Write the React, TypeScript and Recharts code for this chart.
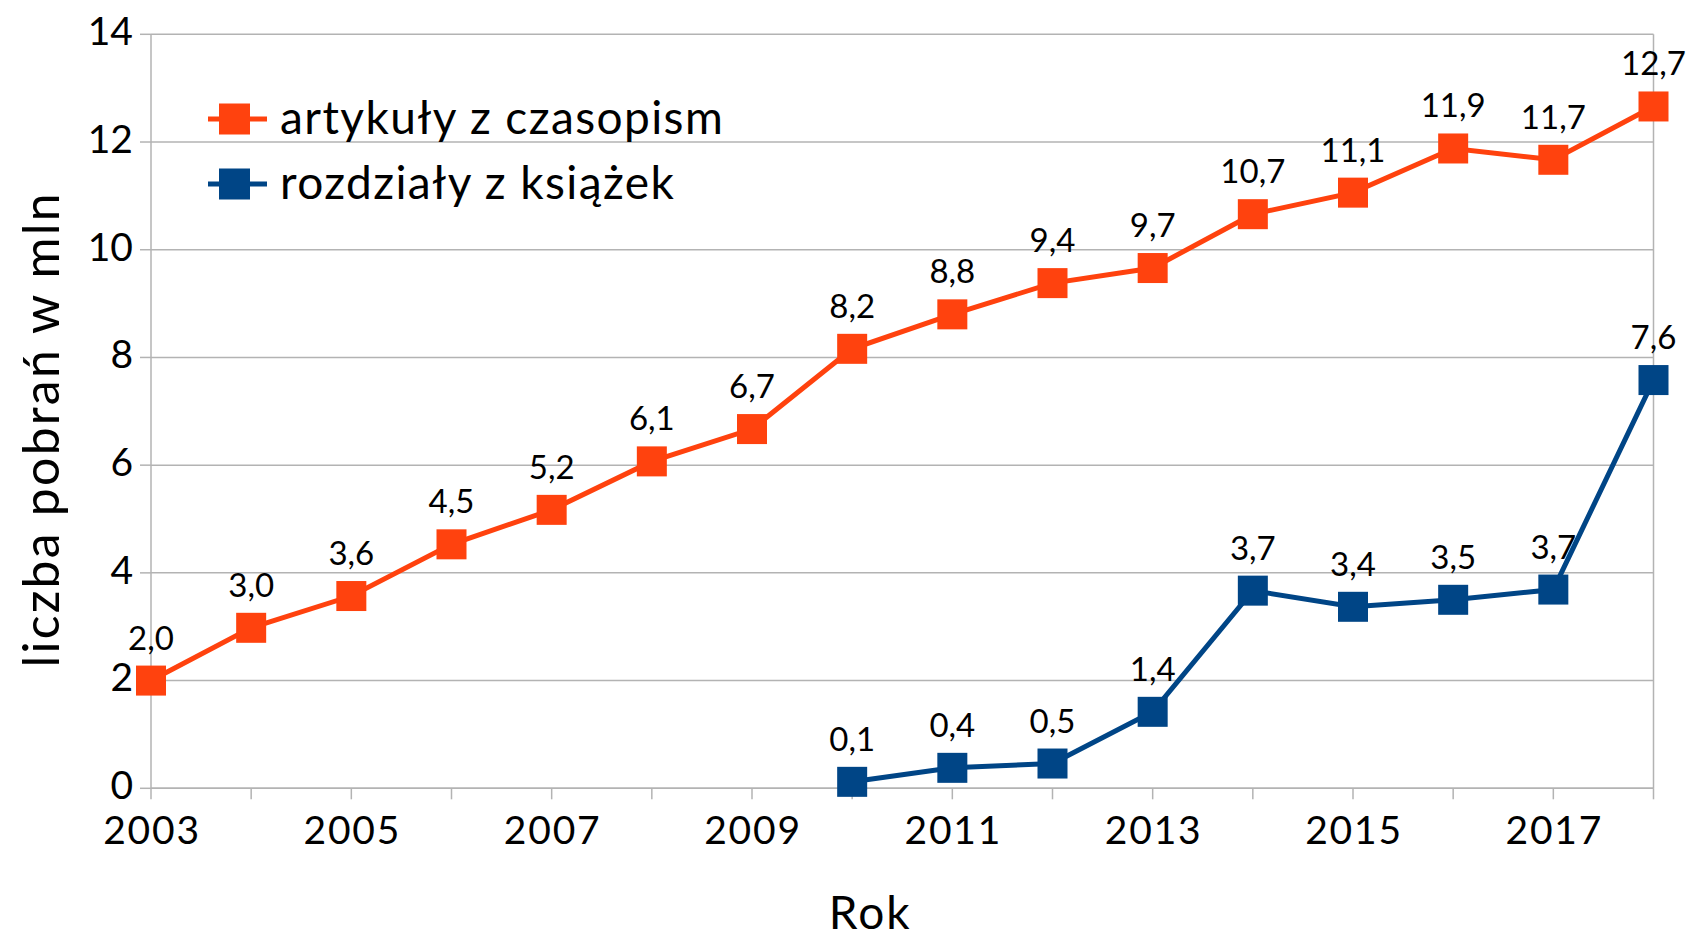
import React from 'react';
import { LineChart, Line, XAxis, YAxis, CartesianGrid, Legend, LabelList, Label } from 'recharts';

const years = [2003, 2004, 2005, 2006, 2007, 2008, 2009, 2010, 2011, 2012, 2013, 2014, 2015, 2016, 2017, 2018];
const artykuly = [2.0, 2.98, 3.57, 4.53, 5.17, 6.07, 6.67, 8.16, 8.8, 9.38, 9.66, 10.66, 11.06, 11.88, 11.67, 12.66];
const rozdzialy = [null, null, null, null, null, null, null, 0.12, 0.38, 0.46, 1.42, 3.67, 3.37, 3.5, 3.69, 7.58];
const yTicks = [0, 2, 4, 6, 8, 10, 12, 14];
const xLabelYears = [2003, 2005, 2007, 2009, 2011, 2013, 2015, 2017];

const seriesNames = ['artykuły z czasopism', 'rozdziały z książek'];
const colors = ['#ff420e', '#004586'];

const data = years.map((y, i) => ({ year: y, a: artykuly[i], r: rozdzialy[i] }));

const FONT = 'Lato, "Open Sans", sans-serif';
const GRID = '#b3b3b3';
const MARK = 30;

const fmt = (v: any) => (v == null ? '' : Number(v).toFixed(1).replace('.', ','));

const squareDot = (color: string) => (props: any) => {
  const { cx, cy, index } = props;
  if (cx == null || cy == null || props.value == null) return <g key={`d${index}`} />;
  return <rect key={`d${index}`} x={cx - MARK / 2} y={cy - MARK / 2} width={MARK} height={MARK} fill={color} />;
};

const XTick = (props: any) => {
  const { x, y, payload } = props;
  if (!xLabelYears.includes(payload.value)) return <g />;
  return (
    <text x={x + 1} y={y} dy="0.71em" textAnchor="middle" fontFamily={FONT} fontSize={39} letterSpacing={1.8} fill="#000">
      {payload.value}
    </text>
  );
};

const YTick = (props: any) => {
  const { x, y, payload } = props;
  return (
    <text x={x} y={y - 3} dy="0.355em" textAnchor="end" fontFamily={FONT} fontSize={39} fill="#000">
      {payload.value}
    </text>
  );
};

const renderLegend = () => (
  <svg width={560} height={130} style={{ display: 'block' }}>
    {seriesNames.map((n, i) => {
      const my = 29 + i * 65;
      return (
        <g key={n}>
          <line x1={8} y1={my} x2={67} y2={my} stroke={colors[i]} strokeWidth={5} />
          <rect x={19} y={my - 15.5} width={31} height={31} fill={colors[i]} />
          <text x={80} y={my + 15} fontFamily={FONT} fontSize={46} letterSpacing={1.4} fill="#000">
            {n}
          </text>
        </g>
      );
    })}
  </svg>
);

const YTitle = (props: any) => {
  const { viewBox } = props;
  const cx = 40;
  const cy = viewBox.y + viewBox.height / 2 + 18;
  return (
    <text x={cx} y={cy} transform={`rotate(-90, ${cx}, ${cy})`} textAnchor="middle" dominantBaseline="central" fontFamily={FONT} fontSize={50} letterSpacing={2.2} fill="#000">
      liczba pobrań w mln
    </text>
  );
};

const XTitle = (props: any) => {
  const { viewBox } = props;
  const cx = viewBox.x + viewBox.width / 2 - 32;
  const cy = viewBox.y + viewBox.height - 6;
  return (
    <text x={cx} y={cy} textAnchor="middle" fontFamily={FONT} fontSize={46} letterSpacing={2} fill="#000">
      Rok
    </text>
  );
};

export default function App() {
  return (
    <div style={{ position: 'absolute', left: 0, top: 0, width: 1689, height: 935, background: '#fff' }}>
      <LineChart width={1689} height={935} data={data} margin={{ top: 34.3, right: 35.5, bottom: 0, left: 0 }}>
        <CartesianGrid
          stroke={GRID}
          strokeWidth={1.5}
          horizontal={true}
          vertical={true}
          verticalCoordinatesGenerator={(p: any) => [p.offset.left + p.offset.width]}
        />
        <XAxis
          dataKey="year"
          type="number"
          domain={[2003, 2018]}
          ticks={years}
          interval={0}
          height={146.7}
          tickSize={11}
          tickMargin={17}
          stroke={GRID}
          strokeWidth={1.5}
          tick={<XTick />}
        >
          <Label content={<XTitle />} />
        </XAxis>
        <YAxis
          domain={[0, 14]}
          ticks={yTicks}
          width={151}
          tickSize={11}
          tickMargin={7}
          stroke={GRID}
          strokeWidth={1.5}
          tick={<YTick />}
        >
          <Label content={<YTitle />} />
        </YAxis>
        <Legend
          layout="vertical"
          verticalAlign="middle"
          align="center"
          content={renderLegend}
          wrapperStyle={{ left: 200, top: 90, width: 560, height: 130 }}
        />
        <Line
          type="linear"
          dataKey="a"
          name={seriesNames[0]}
          stroke={colors[0]}
          strokeWidth={5}
          dot={squareDot(colors[0])}
          activeDot={false}
          isAnimationActive={false}
        >
          <LabelList dataKey="a" position="top" offset={31} formatter={fmt} fontFamily={FONT} fontSize={33} fill="#000" />
        </Line>
        <Line
          type="linear"
          dataKey="r"
          name={seriesNames[1]}
          stroke={colors[1]}
          strokeWidth={5}
          dot={squareDot(colors[1])}
          activeDot={false}
          connectNulls={false}
          isAnimationActive={false}
        >
          <LabelList dataKey="r" position="top" offset={31} formatter={fmt} fontFamily={FONT} fontSize={33} fill="#000" />
        </Line>
      </LineChart>
    </div>
  );
}
